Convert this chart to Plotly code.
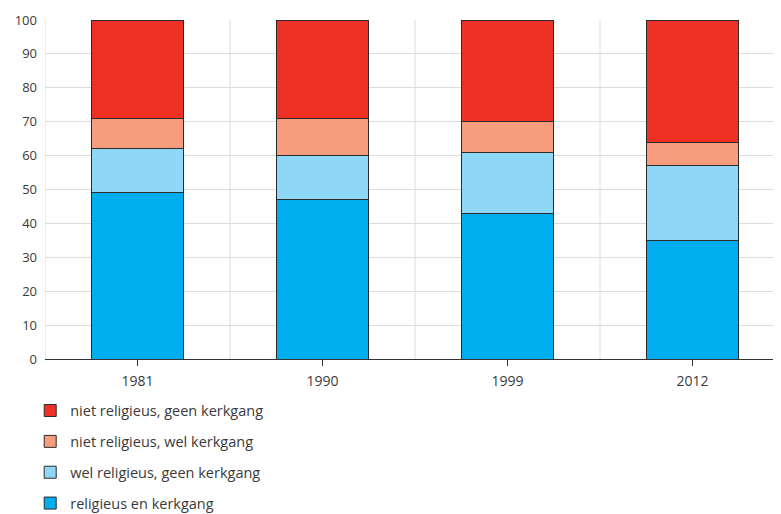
import plotly.graph_objects as go

years = ["1981", "1990", "1999", "2012"]
religieus_kerkgang = [49, 47, 43, 35]
wel_religieus_geen_kerkgang = [13, 13, 18, 22]
niet_religieus_wel_kerkgang = [9, 11, 9, 7]
niet_religieus_geen_kerkgang = [29, 29, 30, 36]

series = [
    ("religieus en kerkgang", religieus_kerkgang, "#00AEEF"),
    ("wel religieus, geen kerkgang", wel_religieus_geen_kerkgang, "#8FD7F7"),
    ("niet religieus, wel kerkgang", niet_religieus_wel_kerkgang, "#F79C7D"),
    ("niet religieus, geen kerkgang", niet_religieus_geen_kerkgang, "#EE3124"),
]

fig = go.Figure()
for i, (name, vals, col) in enumerate(series):
    fig.add_trace(go.Bar(
        x=years, y=vals, name=name, legendgroup=str(i), legendrank=10 - i,
        marker=dict(color=col, line=dict(color="#2b2b2b", width=1)),
        width=0.5,
    ))

font_fam = "Open Sans, Noto Sans, sans-serif"
fig.update_layout(
    width=781, height=514,
    barmode="stack",
    plot_bgcolor="white", paper_bgcolor="white",
    margin=dict(l=37, r=4, t=12, b=163, autoexpand=False),
    font=dict(family=font_fam, size=13, color="#3a3a3a"),
    showlegend=True,
    legend=dict(
        orientation="v", traceorder="grouped",
        x=-0.02, xanchor="left", y=-0.105, yanchor="top",
        font=dict(size=14.5, color="#3a3a3a"),
        tracegroupgap=9,
        itemwidth=30,
    ),
    xaxis=dict(
        type="category", range=[-0.5, 3.5],
        showgrid=False, showline=True, linecolor="#333333", linewidth=1,
        ticks="outside", ticklen=6, tickcolor="#333333",
        ticklabelstandoff=3,
        tickfont=dict(size=14, color="#3a3a3a"),
    ),
    yaxis=dict(
        range=[0, 100], dtick=10, showgrid=True, gridcolor="#dcdcdc", gridwidth=1,
        zeroline=False, showline=False, ticks="",
        ticklabelstandoff=7,
        tickfont=dict(size=13, color="#3a3a3a"),
    ),
)

for xv in [-0.5, 0.5, 1.5, 2.5]:
    fig.add_shape(type="line", xref="x", yref="paper", x0=xv, x1=xv, y0=0, y1=1,
                  line=dict(color="#dcdcdc", width=1), layer="below")

fig.write_html("out.html")
